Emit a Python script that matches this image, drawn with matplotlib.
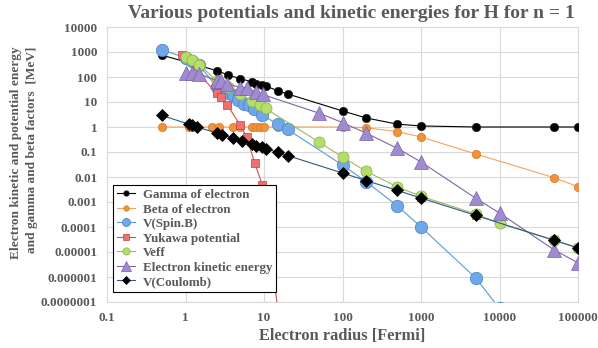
import matplotlib
matplotlib.use("Agg")
import matplotlib.pyplot as plt
import numpy as np
from matplotlib.ticker import FixedLocator, FixedFormatter, NullLocator

# ---------------- data ----------------
gamma_x = [0.5, 2.5, 3.5, 5, 7, 8, 9.5, 10.5, 15, 20, 100, 200, 500, 1000, 5000, 50000, 100000]
gamma_y = [750, 180, 120, 85, 65, 54, 48, 44, 28, 21, 4.4, 2.3, 1.3, 1.1, 1.0, 1.0, 1.0]

beta_x = [0.5, 1.1, 1.2, 2.2, 2.7, 4, 5, 7, 8, 9, 10, 15, 20, 100, 200, 500, 1000, 5000, 50000, 100000]
beta_y = [1.0, 1.0, 1.0, 1.0, 1.0, 1.0, 1.0, 1.0, 1.0, 1.0, 1.0, 1.0, 1.0, 1.0, 0.94, 0.65, 0.4, 0.083, 0.0093, 0.0041]

spin_x = [0.5, 1, 1.2, 1.5, 2.5, 3, 3.5, 4, 4.6, 5.6, 6.5, 7.5, 9.5, 15, 20, 100, 200, 500, 1000, 5000, 10000, 50000, 100000]
spin_y = [1200, 600, 420, 290, 40, 28, 22, 18.5, 12, 8.3, 7.6, 5.4, 3.0, 1.3, 0.8, 0.03, 0.0065, 0.0007, 1e-4, 9e-7, 5.5e-8, 9e-10, 1e-10]

yuk_x = [0.9, 2.5, 2.8, 3.4, 5, 6, 7.6, 9.5, 15]
yuk_y = [750, 22, 16, 7.8, 1.15, 0.41, 0.037, 0.005, 5e-8]
yuk_far_x = [100, 200, 500, 1000, 5000, 50000, 100000]
yuk_far_y = [0.063, 0.017, 0.0035, 0.0016, 3e-4, 3e-5, 1.5e-5]

veff_x = [1, 1.2, 1.5, 2.5, 3.5, 5, 7, 8.8, 10.5, 50, 100, 200, 500, 1000, 5000, 10000, 50000, 100000]
veff_y = [630, 460, 310, 70, 40, 20, 11, 7.6, 5.5, 0.25, 0.063, 0.017, 0.004, 0.0017, 3.3e-4, 1.4e-4, 3e-5, 1.5e-5]

ke_x = [1, 1.2, 1.5, 2.5, 2.8, 3.4, 5, 6, 8, 9.6, 50, 100, 200, 500, 1000, 5000, 10000, 50000, 100000]
ke_y = [150, 150, 135, 70, 68, 54, 38, 38, 24, 20, 3.6, 1.5, 0.57, 0.14, 0.04, 0.0014, 3.6e-4, 1.2e-5, 3.7e-6]

coul_x = [0.5, 1.1, 1.2, 1.4, 2.5, 2.9, 4, 5.2, 7, 8, 9.3, 10.7, 15, 20, 100, 200, 500, 1000, 5000, 50000, 100000]
coul_y = [2.9, 1.3, 1.2, 1.0, 0.58, 0.5, 0.36, 0.28, 0.21, 0.18, 0.155, 0.135, 0.096, 0.072, 0.0144, 0.0072, 0.0029, 0.00144, 0.00029, 2.9e-5, 1.44e-5]

xticks = [0.1, 1, 10, 100, 1000, 10000, 100000]
xtick_labels = ["0.1", "1", "10", "100", "1000", "10000", "100000"]
yticks = [1e-7, 1e-6, 1e-5, 1e-4, 1e-3, 1e-2, 1e-1, 1, 10, 100, 1000, 10000]
ytick_labels = ["0.0000001", "0.000001", "0.00001", "0.0001", "0.001", "0.01", "0.1",
                "1", "10", "100", "1000", "10000"]

title = "Various potentials and kinetic energies for H for n = 1"
xlabel = "Electron radius [Fermi]"
ylabel = "Electron kinetic and potential energy\nand gamma and beta factors  [MeV]"

# ---------------- plot ----------------
plt.rcParams['font.family'] = ['Liberation Serif', 'DejaVu Serif']
plt.rcParams['font.weight'] = 'bold'
txt = '#595959'

fig = plt.figure(figsize=(5.98, 3.48), dpi=100)
ax = fig.add_axes([107/598, 1-302/348, (578-107)/598, (302-27)/348])

ax.set_xscale('log')
ax.set_yscale('log')
ax.set_xlim(0.1, 100000)
ax.set_ylim(1e-7, 10000)

ax.grid(True, color='#d9d9d9', linewidth=0.8, zorder=0)
ax.set_axisbelow(True)
for s in ax.spines.values():
    s.set_color('#d9d9d9')
    s.set_linewidth(0.8)

lw = 0.8
ax.plot(gamma_x, gamma_y, color='black', lw=lw, marker='o', ms=6,
        mfc='black', mec='#222222', mew=0.5, label='Gamma of electron', zorder=3)
ax.plot(beta_x, beta_y, color='#F4A460', lw=lw, marker='o', ms=6,
        mfc='#F0923A', mec='#D97A25', mew=0.5, label='Beta of electron', zorder=4)
ax.plot(spin_x, spin_y, color='#5B9BD5', lw=lw, marker='o', ms=9,
        mfc='#6FA8E8', mec='#4A82C0', mew=0.5, label='V(Spin.B)', zorder=5)
ax.plot(yuk_x, yuk_y, color='#D05050', lw=lw, marker='s', ms=6,
        mfc='#EE7070', mec='#C04040', mew=0.5, label='Yukawa potential', zorder=6)
ax.plot(yuk_far_x, yuk_far_y, ls='none', marker='s', ms=6,
        mfc='#EE7070', mec='#C04040', mew=0.5, zorder=6)
ax.plot(veff_x, veff_y, color='#9BBB59', lw=lw, marker='o', ms=8,
        mfc='#B5DD6A', mec='#8FB04A', mew=0.5, label='Veff', zorder=7)
ax.plot(ke_x, ke_y, color='#8064A2', lw=lw, marker='^', ms=10,
        mfc='#A08AD0', mec='#7D60B0', mew=0.5, label='Electron kinetic energy', zorder=8)
ax.plot(coul_x, coul_y, color='#2E5A80', lw=lw, marker='D', ms=6.5,
        mfc='black', mec='black', mew=0.5, label='V(Coulomb)', zorder=9)

ax.xaxis.set_major_locator(FixedLocator(xticks))
ax.xaxis.set_major_formatter(FixedFormatter(xtick_labels))
ax.xaxis.set_minor_locator(NullLocator())
ax.yaxis.set_major_locator(FixedLocator(yticks))
ax.yaxis.set_major_formatter(FixedFormatter(ytick_labels))
ax.yaxis.set_minor_locator(NullLocator())
ax.tick_params(axis='both', length=0, labelsize=9.5, labelcolor=txt, pad=7)
for lab in ax.get_xticklabels() + ax.get_yticklabels():
    lab.set_fontweight('bold')

ax.set_xlabel(xlabel, fontsize=11.8, fontweight='bold', color=txt, labelpad=3)
fig.text(24/598, 1-152.5/348, ylabel, rotation=90, ha='center', va='center',
         multialignment='right', fontsize=9.6, fontweight='bold', color=txt,
         linespacing=1.35)
fig.text(351/598, 1-13/348, title, ha='center', va='center',
         fontsize=14, fontweight='bold', color=txt)

leg = ax.legend(loc='upper left', bbox_to_anchor=(113/598, 1-185/348),
                bbox_transform=fig.transFigure, borderaxespad=0,
                fontsize=9.4, markerscale=0.65, handlelength=1.4,
                labelspacing=0.18, borderpad=0.3, handletextpad=0.6,
                frameon=True, fancybox=False, framealpha=1)
leg.get_frame().set_edgecolor('black')
leg.get_frame().set_linewidth(0.8)
leg.set_zorder(20)
for t in leg.get_texts():
    t.set_color(txt)
    t.set_fontweight('bold')

fig.savefig('out.png', dpi=100)
